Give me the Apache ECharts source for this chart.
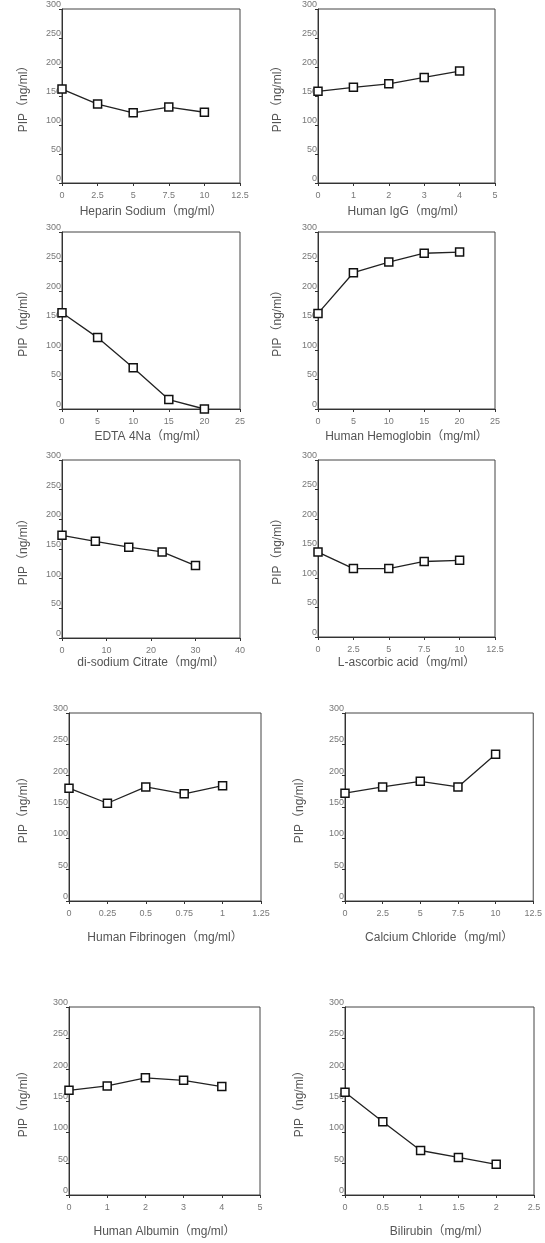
<!DOCTYPE html>
<html>
<head>
<meta charset="utf-8">
<script src="https://cdn.jsdelivr.net/npm/echarts@6/dist/echarts.min.js"></script>
<style>
  html, body { margin: 0; padding: 0; background: #fff; }
  #chart { width: 545px; height: 1243px; }
</style>
</head>
<body>
<div id="chart"></div>
<script>
// concentrations (x) and PIP values (y)
const heparinX = [0, 2.5, 5, 7.5, 10]
const heparinY = [162, 136, 121, 131, 122]
const iggX = [0, 1, 2, 3, 4]
const iggY = [158, 165, 171, 182, 193]
const edtaX = [0, 5, 10, 15, 20]
const edtaY = [163, 121, 70, 16, 0]
const hemoglobinX = [0, 5, 10, 15, 20]
const hemoglobinY = [162, 231, 249, 264, 266]
const citrateX = [0, 7.5, 15, 22.5, 30]
const citrateY = [173, 163, 153, 145, 122]
const ascorbicX = [0, 2.5, 5, 7.5, 10]
const ascorbicY = [144, 116, 116, 128, 130]
const fibrinogenX = [0, 0.25, 0.5, 0.75, 1]
const fibrinogenY = [180, 156, 182, 171, 184]
const calciumX = [0, 2.5, 5, 7.5, 10]
const calciumY = [172, 182, 191, 182, 234]
const albuminX = [0, 1, 2, 3, 4]
const albuminY = [167, 174, 187, 183, 173]
const bilirubinX = [0, 0.5, 1, 1.5, 2]
const bilirubinY = [164, 117, 71, 60, 49]

// axis titles and x scale (max / step)
const xTitles = [
  'Heparin Sodium（mg/ml）', 'Human IgG（mg/ml）',
  'EDTA 4Na（mg/ml）', 'Human Hemoglobin（mg/ml）',
  'di-sodium Citrate（mg/ml）', 'L-ascorbic acid（mg/ml）',
  'Human Fibrinogen（mg/ml）', 'Calcium Chloride（mg/ml）',
  'Human Albumin（mg/ml）', 'Bilirubin（mg/ml）'
]
const xMax = [12.5, 5, 25, 25, 40, 12.5, 1.25, 12.5, 5, 2.5]
const xStep = [2.5, 1, 5, 5, 10, 2.5, 0.25, 2.5, 1, 0.5]
const yTitle = 'PIP（ng/ml）'
const yMax = 300
const yStep = 50

const seriesX = [heparinX, iggX, edtaX, hemoglobinX, citrateX, ascorbicX, fibrinogenX, calciumX, albuminX, bilirubinX]
const seriesY = [heparinY, iggY, edtaY, hemoglobinY, citrateY, ascorbicY, fibrinogenY, calciumY, albuminY, bilirubinY]

// layout of each panel: [left, top, width, height, xNameGap, yNameGap]
const layout = [
  [62, 7, 178, 176, 23, 32],
  [318, 7, 177, 176, 23, 34],
  [62, 232, 178, 177, 22, 32],
  [318, 232, 177, 177, 22, 34],
  [62, 460, 178, 178, 19, 32],
  [318, 460, 177, 177, 20, 34],
  [69, 713, 192, 188, 31, 39],
  [345, 713, 189, 188, 31, 39],
  [69, 1007, 191, 188, 31, 39],
  [345, 1007, 189, 188, 31, 39]
]

const fontFamily = '"Liberation Sans", Arial, "Noto Sans CJK SC", sans-serif'

const chart = echarts.init(document.getElementById('chart'))

const grid = []
const xAxis = []
const yAxis = []
const series = []

layout.forEach((l, i) => {
  grid.push({
    left: l[0],
    top: l[1],
    width: l[2],
    height: l[3],
    show: true,
    borderColor: '#444',
    borderWidth: 1
  })
  xAxis.push({
    type: 'value',
    gridIndex: i,
    min: 0,
    max: xMax[i],
    interval: xStep[i],
    name: xTitles[i],
    nameLocation: 'middle',
    nameGap: l[4],
    nameTextStyle: { color: '#555', fontSize: 12, fontFamily: fontFamily },
    axisLine: { show: true, onZero: false, lineStyle: { color: '#333', width: 1 } },
    axisTick: { show: true, length: 3, lineStyle: { color: '#333' } },
    axisLabel: { color: '#777', fontSize: 9, margin: 8, fontFamily: fontFamily },
    splitLine: { show: false }
  })
  yAxis.push({
    type: 'value',
    gridIndex: i,
    min: 0,
    max: yMax,
    interval: yStep,
    name: yTitle,
    nameLocation: 'middle',
    nameGap: l[5],
    nameRotate: 90,
    nameTextStyle: { color: '#555', fontSize: 12, fontFamily: fontFamily },
    axisLine: { show: true, lineStyle: { color: '#333', width: 1 } },
    axisTick: { show: true, length: 3, lineStyle: { color: '#333' } },
    axisLabel: { color: '#777', fontSize: 9, margin: 1, verticalAlign: 'bottom', fontFamily: fontFamily },
    splitLine: { show: false }
  })
  series.push({
    type: 'line',
    xAxisIndex: i,
    yAxisIndex: i,
    data: seriesX[i].map((x, k) => [x, seriesY[i][k]]),
    symbol: 'rect',
    symbolSize: 8,
    lineStyle: { color: '#222', width: 1.3 },
    itemStyle: { color: '#fff', borderColor: '#111', borderWidth: 1.5 },
    z: 5
  })
})

chart.setOption({
  animation: false,
  backgroundColor: '#fff',
  grid: grid,
  xAxis: xAxis,
  yAxis: yAxis,
  series: series
})
</script>
</body>
</html>
